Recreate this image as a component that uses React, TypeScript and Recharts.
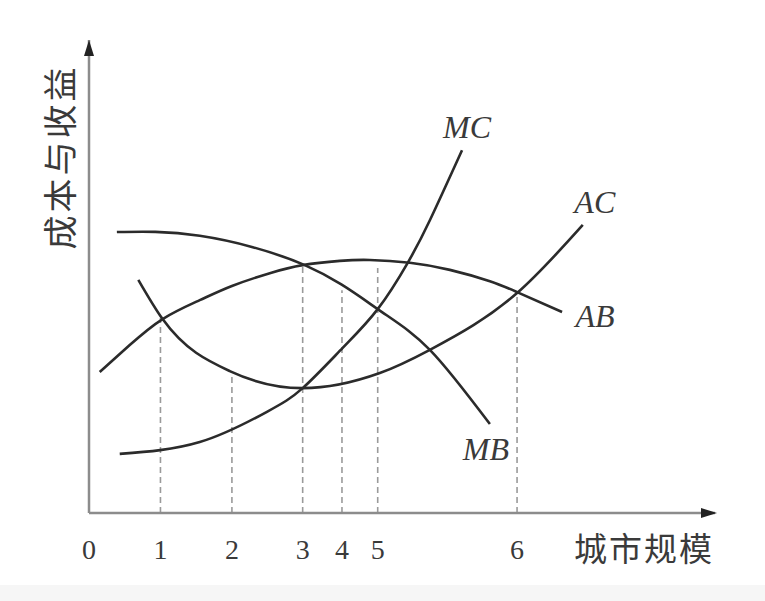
import React from 'react';
import {
  LineChart,
  Line,
  XAxis,
  YAxis,
  ReferenceLine,
  ReferenceDot,
  Label,
} from 'recharts';

// curve samples (x = city size, y = cost / benefit)
const abX = [0.15, 0.57, 1.03, 1.55, 2.0, 2.53, 2.99, 3.51, 3.93, 4.49, 5.05, 5.61, 5.99, 6.62];
const abY = [2.98, 3.55, 4.1, 4.5, 4.8, 5.07, 5.24, 5.33, 5.35, 5.29, 5.14, 4.9, 4.67, 4.25];

const mbX = [0.39, 1.55, 3.02, 4.04, 4.77, 5.61];
const mbY = [5.94, 5.86, 5.24, 4.31, 3.45, 1.88];

const acX = [0.69, 1.03, 1.97, 2.99, 4.07, 4.77, 5.99, 6.91];
const acY = [4.93, 4.1, 3.0, 2.64, 2.96, 3.45, 4.65, 6.09];

const mcX = [0.43, 1.55, 2.49, 2.99, 3.55, 4.04, 4.46, 4.77, 5.22];
const mcY = [1.25, 1.5, 2.14, 2.64, 3.49, 4.31, 5.29, 6.19, 7.67];

// tick positions on the size axis and the labels printed under them
const xTicks = [0, 1.0, 2.0, 2.99, 3.54, 4.04, 5.99];
const xTickLabels = ['0', '1', '2', '3', '4', '5', '6'];

// dashed drop lines: where each one starts on a curve
const guideX = [1.0, 2.0, 2.99, 3.54, 4.04, 5.99];
const guideTop = [4.12, 2.98, 5.24, 4.71, 5.18, 4.67];

const X_MAX = 8.76;
const Y_MAX = 10;

const toPoints = (xs: number[], ys: number[]) => xs.map((x, i) => ({ x, y: ys[i] }));

const CURVE = '#2b2b2b';
const AXIS = '#8c8c8c';
const GUIDE = '#9a9a9a';

const endLabel = (text: string, count: number, dx: number, dy: number) => (props: any) => {
  if (props.index !== count - 1) return null;
  return (
    <text
      x={props.x + dx}
      y={props.y + dy}
      textAnchor="middle"
      dominantBaseline="central"
      fontFamily="'Liberation Serif', serif"
      fontStyle="italic"
      fontSize={32}
      fill="#3a3a3a"
    >
      {text}
    </text>
  );
};

const XTick = (props: any) => (
  <text
    x={props.x}
    y={props.y + 34}
    textAnchor="middle"
    dominantBaseline="central"
    fontFamily="'Liberation Serif', serif"
    fontSize={28}
    fill="#3a3a3a"
  >
    {xTickLabels[props.index]}
  </text>
);

export default function App() {
  return (
    <div style={{ position: 'absolute', left: 0, top: 0, width: 765, height: 601, background: '#fff' }}>
      <LineChart
        width={765}
        height={601}
        margin={{ top: 40, right: 50, bottom: 58, left: 89 }}
      >
        <XAxis
          type="number"
          dataKey="x"
          domain={[0, X_MAX]}
          ticks={xTicks}
          allowDataOverflow
          height={30}
          tickLine={false}
          tickSize={0}
          tick={<XTick />}
          axisLine={{ stroke: AXIS, strokeWidth: 2.5 }}
        >
          <Label
            content={(p: any) => (
              <text
                x={p.viewBox.x + p.viewBox.width - 71}
                y={p.viewBox.y + 34}
                textAnchor="middle"
                dominantBaseline="central"
                fontFamily="'Noto Sans CJK SC', sans-serif"
                fontSize={33}
                letterSpacing={2}
                fill="#3a3a3a"
              >
                城市规模
              </text>
            )}
          />
        </XAxis>
        <YAxis type="number" domain={[0, Y_MAX]} hide />

        {/* vertical axis, with the rotated axis title */}
        <ReferenceLine
          segment={[{ x: 0, y: 0 }, { x: 0, y: Y_MAX }]}
          stroke={AXIS}
          strokeWidth={2.5}
          ifOverflow="visible"
        >
          <Label
            content={(p: any) => {
              const top = Math.min(p.viewBox.y, p.viewBox.y + p.viewBox.height);
              const cx = p.viewBox.x - 31;
              const cy = top + 117;
              return (
                <text
                  x={cx}
                  y={cy}
                  transform={`rotate(-90 ${cx} ${cy})`}
                  textAnchor="middle"
                  dominantBaseline="central"
                  fontFamily="'Noto Sans CJK SC', sans-serif"
                  fontSize={34}
                  letterSpacing={3}
                  fill="#3a3a3a"
                >
                  成本与收益
                </text>
              );
            }}
          />
        </ReferenceLine>

        {guideX.map((gx, i) => (
          <ReferenceLine
            key={`g${i}`}
            segment={[{ x: gx, y: 0 }, { x: gx, y: guideTop[i] }]}
            stroke={GUIDE}
            strokeWidth={1.6}
            strokeDasharray="6 4"
          />
        ))}

        <ReferenceDot
          x={0}
          y={Y_MAX}
          ifOverflow="visible"
          shape={(p: any) => (
            <polygon points={`${p.cx},${p.cy} ${p.cx - 5},${p.cy + 16} ${p.cx + 5},${p.cy + 16}`} fill="#222" />
          )}
        />
        <ReferenceDot
          x={X_MAX}
          y={0}
          ifOverflow="visible"
          shape={(p: any) => (
            <polygon points={`${p.cx + 2},${p.cy} ${p.cx - 14},${p.cy - 5} ${p.cx - 14},${p.cy + 5}`} fill="#222" />
          )}
        />

        <Line
          data={toPoints(abX, abY)}
          dataKey="y"
          type="natural"
          stroke={CURVE}
          strokeWidth={2.6}
          dot={false}
          isAnimationActive={false}
          label={endLabel('AB', abX.length, 33, 4)}
        />
        <Line
          data={toPoints(mbX, mbY)}
          dataKey="y"
          type="natural"
          stroke={CURVE}
          strokeWidth={2.6}
          dot={false}
          isAnimationActive={false}
          label={endLabel('MB', mbX.length, -4, 25)}
        />
        <Line
          data={toPoints(acX, acY)}
          dataKey="y"
          type="monotone"
          stroke={CURVE}
          strokeWidth={2.6}
          dot={false}
          isAnimationActive={false}
          label={endLabel('AC', acX.length, 12, -23)}
        />
        <Line
          data={toPoints(mcX, mcY)}
          dataKey="y"
          type="natural"
          stroke={CURVE}
          strokeWidth={2.6}
          dot={false}
          isAnimationActive={false}
          label={endLabel('MC', mcX.length, 5, -23)}
        />
      </LineChart>
      <div style={{ position: 'absolute', left: 0, top: 585, width: 765, height: 16, background: '#f6f6f6' }} />
    </div>
  );
}
